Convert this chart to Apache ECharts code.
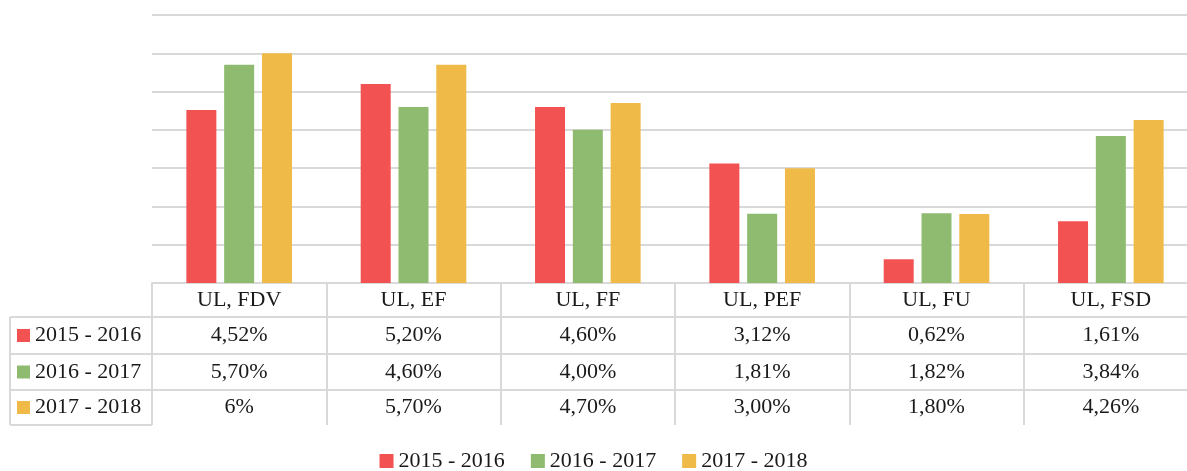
<!DOCTYPE html>
<html>
<head>
<meta charset="utf-8">
<script src="https://cdn.jsdelivr.net/npm/echarts@6/dist/echarts.min.js"></script>
<style>
  html, body { margin: 0; padding: 0; background: #fff; }
  #chart { width: 1187px; height: 471px; }
</style>
</head>
<body>
<div id="chart"></div>
<script>
var categories = ['UL, FDV', 'UL, EF', 'UL, FF', 'UL, PEF', 'UL, FU', 'UL, FSD'];
var seriesNames = ['2015 - 2016', '2016 - 2017', '2017 - 2018'];
var values1516 = ['4.52', '5.20', '4.60', '3.12', '0.62', '1.61'];
var values1617 = ['5.70', '4.60', '4.00', '1.81', '1.82', '3.84'];
var values1718 = ['6', '5.70', '4.70', '3.00', '1.80', '4.26'];
var colors = ['#F25252', '#8EBB6F', '#EFBA47'];

var allValues = [values1516, values1617, values1718];
var font = 'Liberation Serif';
var lineColor = '#d9d9d9';

function fmt(s) {
    return s.replace('.', ',') + '%';
}

var chart = echarts.init(document.getElementById('chart'));

// layout of the table under the plot
var gridLeft = 152, gridTop = 15, plotBottom = 283;
var rowLines = [317, 354, 390, 425];

// first x axis = category row, others = one row of the table each
var xAxes = [{
    type: 'category',
    data: categories,
    gridIndex: 0,
    position: 'bottom',
    axisLine: { lineStyle: { color: lineColor, width: 2 } },
    axisTick: { show: true, length: rowLines[3] - plotBottom, lineStyle: { color: lineColor, width: 2 } },
    axisLabel: {
        interval: 0, color: '#1a1a1a', fontFamily: font, fontSize: 22,
        verticalAlign: 'middle', margin: (rowLines[0] - plotBottom) / 2
    }
}];
allValues.forEach(function (vals, k) {
    var top = rowLines[k], bottom = rowLines[k + 1];
    xAxes.push({
        type: 'category',
        data: categories,
        gridIndex: 0,
        position: 'bottom',
        offset: top - plotBottom,
        axisLine: { lineStyle: { color: lineColor, width: 2 } },
        axisTick: { show: false },
        axisLabel: {
            interval: 0, color: '#1a1a1a', fontFamily: font, fontSize: 22,
            verticalAlign: 'middle', margin: (bottom - top) / 2,
            formatter: function (v, i) { return fmt(vals[i]); }
        }
    });
});

// left side of the table: row headers
var graphics = [];
rowLines.forEach(function (y) {
    graphics.push({ type: 'line', shape: { x1: 10, y1: y, x2: gridLeft, y2: y }, style: { stroke: lineColor, lineWidth: 2 } });
});
graphics.push({ type: 'line', shape: { x1: 10, y1: rowLines[0], x2: 10, y2: rowLines[3] }, style: { stroke: lineColor, lineWidth: 2 } });
seriesNames.forEach(function (name, k) {
    var cy = (rowLines[k] + rowLines[k + 1]) / 2;
    graphics.push({ type: 'rect', shape: { x: 17, y: cy - 6.5, width: 13, height: 13 }, style: { fill: colors[k] } });
    graphics.push({
        type: 'text', x: 35, y: cy,
        style: { text: name, fill: '#1a1a1a', font: '22px "' + font + '"', verticalAlign: 'middle' }
    });
});

var option = {
    animation: false,
    color: colors,
    textStyle: { fontFamily: font },
    grid: {
        left: gridLeft, top: gridTop, width: 1046, height: plotBottom - gridTop,
        outerBoundsMode: 'none', containLabel: false
    },
    legend: {
        data: seriesNames,
        top: 450,
        left: 'center',
        padding: 0,
        icon: 'rect',
        itemWidth: 14,
        itemHeight: 14,
        itemGap: 26,
        textStyle: { color: '#1a1a1a', fontFamily: font, fontSize: 22 }
    },
    xAxis: xAxes,
    yAxis: {
        type: 'value',
        min: 0,
        max: 7,
        interval: 1,
        axisLabel: { show: false },
        axisLine: { show: false },
        axisTick: { show: false },
        splitLine: { lineStyle: { color: lineColor, width: 2 } }
    },
    series: seriesNames.map(function (name, k) {
        return {
            name: name,
            type: 'bar',
            xAxisIndex: 0,
            barWidth: 30,
            barGap: '26%',
            data: allValues[k].map(Number)
        };
    }),
    graphic: graphics
};

chart.setOption(option);
</script>
</body>
</html>
